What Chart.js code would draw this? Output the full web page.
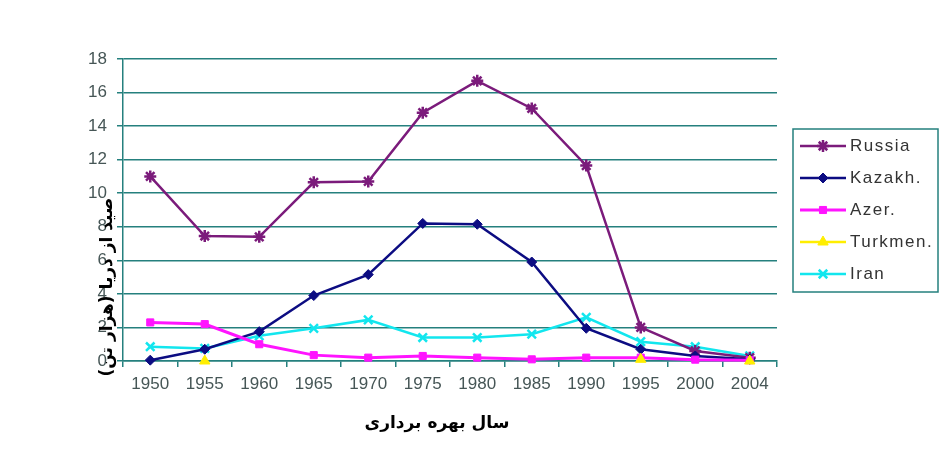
<!DOCTYPE html>
<html><head><meta charset="utf-8">
<script src="https://cdn.jsdelivr.net/npm/chart.js@4/dist/chart.umd.min.js"></script>
<style>html,body{margin:0;padding:0;background:#fff}</style>
</head><body>
<canvas id="c" width="949" height="471"></canvas>
<script>
const years = ['1950','1955','1960','1965','1970','1975','1980','1985','1990','1995','2000','2004'];
const russia  = [11.0, 7.45, 7.4, 10.65, 10.7, 14.8, 16.7, 15.05, 11.65, 2.0, 0.6, 0.2];
const kazakh  = [0.05, 0.7, 1.75, 3.9, 5.15, 8.2, 8.15, 5.9, 1.95, 0.7, 0.3, 0.1];
const azer    = [2.3, 2.2, 1.0, 0.35, 0.2, 0.3, 0.2, 0.1, 0.2, 0.2, 0.08, 0.05];
const turkmen = [null, 0, null, null, null, null, null, null, null, 0.1, null, 0];
const iran    = [0.85, 0.75, 1.5, 1.95, 2.45, 1.4, 1.4, 1.6, 2.6, 1.15, 0.85, 0.3];
const seriesNames = ['Russia', 'Kazakh.', 'Azer.', 'Turkmen.', 'Iran'];
const yTickValues = [0, 2, 4, 6, 8, 10, 12, 14, 16, 18];
const xTitle = 'سال بهره برداری';
const yTitle = 'صید از دریا (هزار تن)';

const GRID = '#25807e';
const TICKTXT = '#465656';

function ds(label, data, color, style, radius, bw, pbw) {
  return {
    label, data,
    borderColor: color, backgroundColor: color,
    pointBackgroundColor: color, pointBorderColor: color,
    pointStyle: style, pointRadius: radius, pointBorderWidth: pbw,
    borderWidth: bw, tension: 0, clip: false, spanGaps: false
  };
}
const datasets = [
  ds(seriesNames[0], russia, '#7b1b7b', 'star', 6, 2.5, 2.5),
  ds(seriesNames[1], kazakh, '#0c0c82', 'rectRot', 5, 2.5, 1),
  ds(seriesNames[2], azer, '#ff14ff', 'rect', 5, 3, 1),
  ds(seriesNames[3], turkmen, '#ffee00', 'triangle', 6, 2.5, 1),
  ds(seriesNames[4], iran, '#12e6ee', 'crossRot', 6, 2.5, 2.5)
];
datasets[4].order = 5; datasets[0].order = 4; datasets[1].order = 3; datasets[2].order = 2; datasets[3].order = 1;

const extras = {
  id: 'extras',
  afterDraw(chart) {
    const ctx = chart.ctx;
    ctx.save();
    ctx.strokeStyle = GRID; ctx.lineWidth = 1.5;
    ctx.strokeRect(793, 129, 145, 163);
    chart.data.datasets.forEach((d, i) => {
      const y = 146 + i * 32;
      ctx.strokeStyle = d.borderColor; ctx.lineWidth = d.borderWidth;
      ctx.beginPath(); ctx.moveTo(800, y); ctx.lineTo(846, y); ctx.stroke();
      ctx.fillStyle = d.pointBackgroundColor; ctx.strokeStyle = d.pointBorderColor;
      ctx.lineWidth = d.pointBorderWidth;
      Chart.helpers.drawPoint(ctx, {pointStyle: d.pointStyle, radius: d.pointRadius, borderWidth: d.pointBorderWidth, rotation: 0}, 823, y);
      ctx.fillStyle = '#333';
      ctx.font = '17px "Liberation Sans", Arial, sans-serif';
      ctx.letterSpacing = '1.5px';
      ctx.textAlign = 'left'; ctx.textBaseline = 'middle';
      ctx.fillText(d.label, 850, y);
    });
    ctx.restore();
    ctx.save();
    ctx.fillStyle = '#000';
    ctx.font = 'bold 17px "DejaVu Sans", sans-serif';
    ctx.direction = 'rtl';
    ctx.textAlign = 'center'; ctx.textBaseline = 'middle';
    ctx.fillText(xTitle, 437, 424);
    ctx.translate(108, 287);
    ctx.rotate(-Math.PI / 2);
    ctx.fillText(yTitle, 0, 0);
    ctx.restore();
  }
};

new Chart(document.getElementById('c'), {
  type: 'line',
  data: { labels: years, datasets },
  options: {
    responsive: false, animation: false, devicePixelRatio: 1,
    layout: { padding: { top: 59, right: 172, left: 0, bottom: 0 } },
    plugins: { legend: { display: false }, tooltip: { enabled: false } },
    scales: {
      x: {
        offset: true,
        grid: { drawOnChartArea: false, offset: true, color: GRID, lineWidth: 1.5, tickLength: 6, tickColor: GRID },
        border: { color: GRID, width: 1.5 },
        ticks: { color: TICKTXT, font: { size: 17, family: '"Liberation Sans", Arial, sans-serif' }, padding: 7, maxRotation: 0, autoSkip: false },
        afterFit(s) { s.height = 110; }
      },
      y: {
        min: 0, max: 18,
        afterBuildTicks(s) { s.ticks = yTickValues.map(v => ({ value: v })); },
        grid: { color: GRID, lineWidth: 1.5, tickLength: 6, tickColor: GRID },
        border: { color: GRID, width: 1.5 },
        ticks: { color: TICKTXT, font: { size: 17, family: '"Liberation Sans", Arial, sans-serif' }, padding: 10 },
        afterFit(s) { s.width = 123; }
      }
    }
  },
  plugins: [extras]
});
</script>
</body></html>
